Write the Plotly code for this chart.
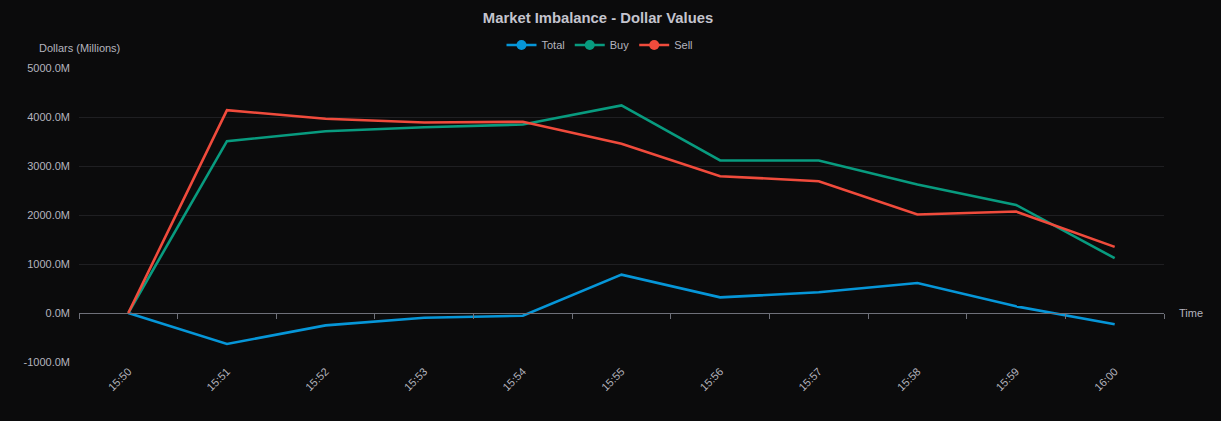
import plotly.graph_objects as go

categories = ["15:50", "15:51", "15:52", "15:53", "15:54", "15:55",
              "15:56", "15:57", "15:58", "15:59", "16:00"]
total = [0, -633, -253, -96, -55, 783, 320, 422, 612, 136, -231]
buy = [0, 3506, 3710, 3792, 3847, 4235, 3112, 3112, 2622, 2207, 1119]
sell = [0, 4139, 3963, 3888, 3902, 3452, 2792, 2690, 2010, 2071, 1350]
y_ticks = [-1000, 0, 1000, 2000, 3000, 4000, 5000]
y_ticktext = [f"{v:.1f}M" for v in y_ticks]

series = [("Total", total, "#0696d8"), ("Buy", buy, "#089b7f"), ("Sell", sell, "#f04b3c")]

BG = "#0b0b0c"
TXT = "#b4b4be"
FONT = "Liberation Sans, Arial, sans-serif"

fig = go.Figure()
for name, vals, col in series:
    fig.add_trace(go.Scatter(x=categories, y=vals, mode="lines", name=name,
                             line=dict(color=col, width=2.6), showlegend=False,
                             legendgroup=name, xaxis="x", yaxis="y"))
# legend proxies (line + circle symbol)
for name, vals, col in series:
    fig.add_trace(go.Scatter(x=[None], y=[None], mode="lines+markers", name=name,
                             line=dict(color=col, width=2.6),
                             marker=dict(color=col, size=10, symbol="circle"),
                             legendgroup=name, showlegend=True, hoverinfo="skip"))
# invisible trace to carry the zero-positioned tick axis
fig.add_trace(go.Scatter(x=categories, y=total, mode="lines", opacity=0,
                         showlegend=False, hoverinfo="skip", xaxis="x2", yaxis="y"))

fig.update_layout(
    width=1221, height=421,
    paper_bgcolor=BG, plot_bgcolor=BG,
    margin=dict(l=79, r=57, t=68, b=59, autoexpand=False),
    font=dict(family=FONT, color=TXT, size=11),
    title=dict(text="<b>Market Imbalance - Dollar Values</b>", x=598 / 1221, xref="container",
               xanchor="center", y=1 - 18 / 421, yref="container", yanchor="middle",
               font=dict(size=14.8, color="#c4c4ce", family=FONT)),
    legend=dict(orientation="h", x=600 / 1221, xref="container", xanchor="center",
                y=1 - 45 / 421, yref="container", yanchor="middle",
                font=dict(size=11, color=TXT), bgcolor="rgba(0,0,0,0)",
                itemwidth=30, tracegroupgap=0),
    xaxis=dict(type="category", categoryorder="array", categoryarray=categories,
               range=[-0.5, 10.5], showgrid=False, zeroline=False, showline=False,
               ticks="", tickangle=-45, tickfont=dict(size=11, color=TXT)),
    xaxis2=dict(type="category", categoryorder="array", categoryarray=categories,
                range=[-0.5, 10.5], overlaying="x", anchor="free",
                position=1 / 6, showgrid=False, zeroline=False, showline=True,
                linecolor="#6e7079", linewidth=1.2, ticks="outside", tickson="boundaries",
                ticklen=5, tickcolor="#6e7079", tickwidth=1, showticklabels=False),
    yaxis=dict(range=[-1000, 5000], tickvals=y_ticks, ticktext=y_ticktext,
               showgrid=True, gridcolor="#1f1f22", gridwidth=1,
               zeroline=False, showline=False, ticks="", ticklabelstandoff=8,
               tickfont=dict(size=11, color=TXT)),
    annotations=[
        dict(text="Dollars (Millions)", xref="paper", yref="paper", x=0, y=1,
             xanchor="center", yanchor="middle", yshift=20, showarrow=False,
             font=dict(size=11, color=TXT)),
        dict(text="Time", xref="paper", yref="y", x=1, y=0, xanchor="left",
             yanchor="middle", xshift=13, showarrow=False,
             font=dict(size=11, color=TXT)),
    ],
)

fig.write_html("out.html", config={"displayModeBar": False},
               post_script="document.body.style.margin='0';document.body.style.background='#0b0b0c';")
